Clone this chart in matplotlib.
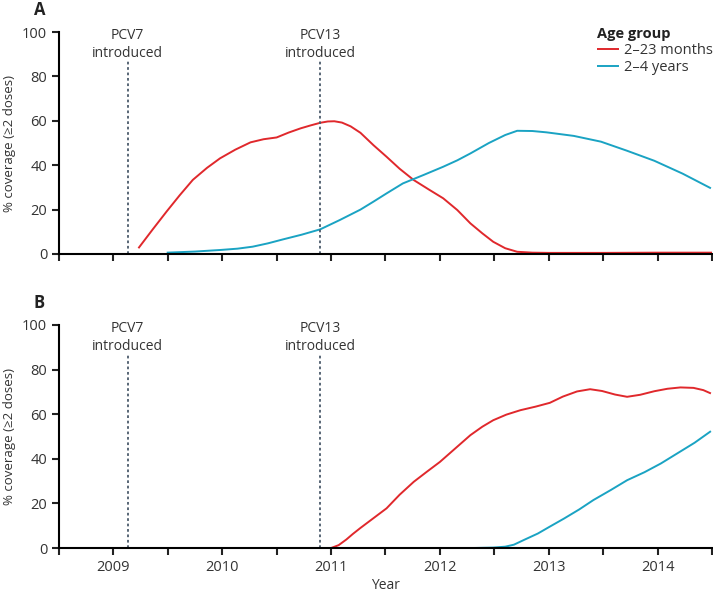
import numpy as np
import matplotlib.pyplot as plt

plt.rcParams['font.family'] = ['Open Sans', 'DejaVu Sans']

# Panel A data (year, % coverage)
a_red_year = [2009.23, 2009.36, 2009.49, 2009.61, 2009.73, 2009.86, 2009.98, 2010.12, 2010.26,
              2010.38, 2010.50, 2010.61, 2010.72, 2010.81, 2010.90, 2010.97, 2011.03, 2011.10,
              2011.18, 2011.27, 2011.39, 2011.51, 2011.63, 2011.76, 2011.90, 2012.03, 2012.16,
              2012.28, 2012.39, 2012.49, 2012.60, 2012.71, 2012.85, 2013.0, 2013.5, 2014.0, 2014.5]
a_red_val = [2.6, 11.0, 19.2, 26.5, 33.4, 38.8, 43.1, 47.0, 50.3,
             51.7, 52.5, 54.7, 56.6, 57.9, 59.1, 59.7, 59.8, 59.2,
             57.5, 54.6, 49.0, 43.8, 38.4, 33.3, 29.0, 25.1, 19.8,
             13.8, 9.3, 5.5, 2.6, 1.0, 0.6, 0.5, 0.5, 0.6, 0.6]
a_blue_year = [2009.49, 2009.75, 2009.98, 2010.14, 2010.28, 2010.42, 2010.56, 2010.73, 2010.90,
               2011.08, 2011.27, 2011.39, 2011.51, 2011.66, 2011.85, 2012.03, 2012.16, 2012.28,
               2012.45, 2012.60, 2012.71, 2012.85, 2012.98, 2013.23, 2013.48, 2013.72, 2013.97,
               2014.23, 2014.49]
a_blue_val = [0.6, 1.1, 1.8, 2.4, 3.3, 4.8, 6.6, 8.7, 11.1,
              15.3, 20.0, 23.6, 27.3, 31.8, 35.6, 39.3, 42.2, 45.3,
              50.0, 53.6, 55.5, 55.4, 54.8, 53.2, 50.6, 46.5, 42.0,
              36.2, 29.6]

# Panel B data (year, % coverage)
b_red_year = [2011.0, 2011.07, 2011.14, 2011.20, 2011.27, 2011.39, 2011.51, 2011.63, 2011.76,
              2011.88, 2012.0, 2012.14, 2012.28, 2012.39, 2012.49, 2012.61, 2012.74, 2012.88,
              2013.01, 2013.13, 2013.26, 2013.38, 2013.49, 2013.61, 2013.72, 2013.84, 2013.97,
              2014.09, 2014.21, 2014.33, 2014.42, 2014.49]
b_red_val = [0.0, 1.3, 3.8, 6.3, 9.0, 13.4, 17.8, 23.9, 29.7,
             34.2, 38.6, 44.6, 50.6, 54.4, 57.3, 59.8, 61.8, 63.4,
             65.1, 67.9, 70.2, 71.2, 70.4, 68.8, 67.8, 68.7, 70.3,
             71.4, 72.0, 71.8, 70.8, 69.3]
b_blue_year = [2012.08, 2012.30, 2012.49, 2012.60, 2012.68, 2012.78, 2012.90, 2013.01, 2013.14,
               2013.28, 2013.41, 2013.57, 2013.72, 2013.88, 2014.03, 2014.18, 2014.34, 2014.49]
b_blue_val = [0.0, 0.0, 0.2, 0.6, 1.5, 3.8, 6.5, 9.6, 13.2,
              17.3, 21.5, 26.0, 30.4, 34.0, 37.9, 42.4, 47.2, 52.4]

pcv7_year = 2009.13
pcv13_year = 2010.90

red = '#e0282c'
blue = '#1aa3c3'
txt = '#333333'

fig = plt.figure(figsize=(7.13, 5.94), dpi=100)
ax_a = fig.add_axes([0.0827, 0.5724, 0.9159, 0.3737])
ax_b = fig.add_axes([0.0827, 0.0774, 0.9159, 0.3755])

panels = [(ax_a, a_red_year, a_red_val, a_blue_year, a_blue_val, 'A'),
          (ax_b, b_red_year, b_red_val, b_blue_year, b_blue_val, 'B')]

for ax, ry, rv, by, bv, letter in panels:
    ax.plot(ry, rv, color=red, lw=1.4, label='2–23 months', solid_capstyle='butt')
    ax.plot(by, bv, color=blue, lw=1.4, label='2–4 years', solid_capstyle='butt')
    for yr, name in [(pcv7_year, 'PCV7'), (pcv13_year, 'PCV13')]:
        ax.vlines(yr, 0, 87, colors='#4b5b6b', linestyles=(0, (1.5, 1.5)), lw=1.3)
        ax.text(yr, 98.5, name, ha='center', va='center', fontsize=10, color=txt)
        ax.text(yr, 90.5, 'introduced', ha='center', va='center', fontsize=10, color=txt)
    ax.set_xlim(2008.5, 2014.5)
    ax.set_ylim(0, 100)
    ax.set_yticks(np.arange(0, 101, 20))
    ax.set_xticks(np.arange(2008.5, 2014.51, 0.5))
    ax.spines['top'].set_visible(False)
    ax.spines['right'].set_visible(False)
    ax.spines['left'].set_linewidth(1.5)
    ax.spines['bottom'].set_linewidth(1.5)
    ax.tick_params(width=1.5, length=5, color='#222222', labelsize=10.5, labelcolor=txt)
    ax.set_ylabel('% coverage (≥2 doses)', fontsize=9.5, color=txt, labelpad=4)
    ax.text(-0.03, 1.1, letter, transform=ax.transAxes, fontsize=12, fontweight='bold',
            color='#222222', ha='center', va='center')

ax_a.set_xticklabels([])
ax_b.set_xticklabels(['' if t % 1 else str(int(t)) for t in np.arange(2008.5, 2014.51, 0.5)])
ax_b.set_xlabel('Year', fontsize=10, color=txt, labelpad=2)

leg = ax_a.legend(title='Age group', loc='upper right', bbox_to_anchor=(1.01, 1.05), frameon=False,
                  fontsize=10.5, handlelength=1.5, handletextpad=0.35, labelspacing=0.15,
                  borderaxespad=0.0)
leg.get_title().set_fontweight('bold')
leg.get_title().set_fontsize(10.5)
leg.get_title().set_color('#222222')
leg._legend_box.align = 'left'
for t in leg.get_texts():
    t.set_color(txt)

fig.savefig('out.png', dpi=100)
